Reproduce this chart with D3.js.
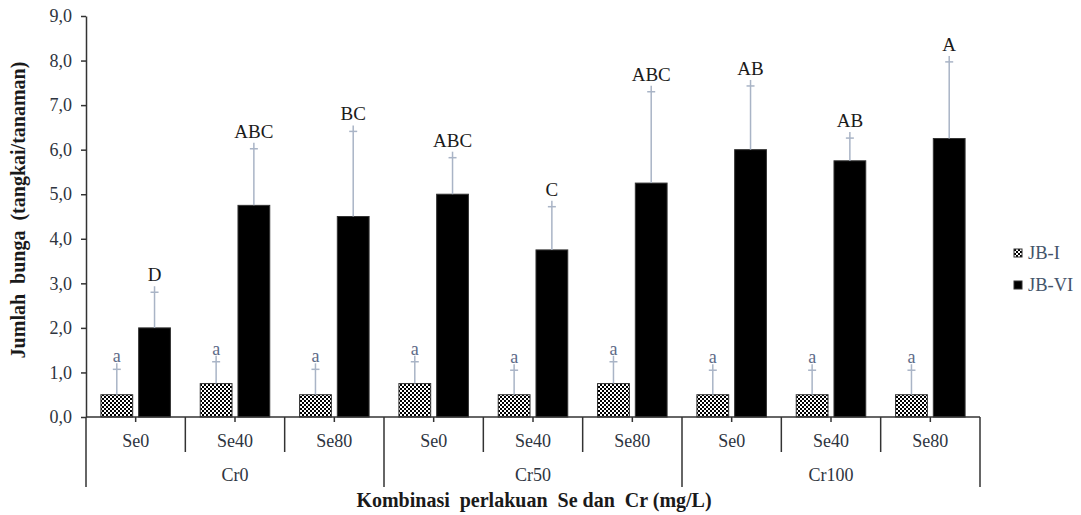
<!DOCTYPE html>
<html>
<head>
<meta charset="utf-8">
<script src="https://cdn.jsdelivr.net/npm/d3@7"></script>
<style>
  body { margin: 0; background: #fff; }
  svg { font-family: "Liberation Serif", "Times New Roman", serif; }
</style>
</head>
<body>
<svg id="chart" width="1081" height="515"></svg>
<script>
// data
var groups = ["Cr0", "Cr50", "Cr100"]
var treatments = ["Se0", "Se40", "Se80"]
var series = ["JB-I", "JB-VI"]
var jb1 = [0.5, 0.75, 0.5, 0.75, 0.5, 0.75, 0.5, 0.5, 0.5]
var jb1Sd = [0.57, 0.49, 0.57, 0.49, 0.55, 0.49, 0.55, 0.55, 0.55]
var jb1Letters = ["a", "a", "a", "a", "a", "a", "a", "a", "a"]
var jb6 = [2.0, 4.75, 4.5, 5.0, 3.75, 5.25, 6.0, 5.75, 6.25]
var jb6Sd = [0.8, 1.27, 1.91, 0.82, 0.97, 2.05, 1.43, 0.51, 1.72]
var jb6Letters = ["D", "ABC", "BC", "ABC", "C", "ABC", "AB", "AB", "A"]
var yTicks = [0, 1, 2, 3, 4, 5, 6, 7, 8, 9]

// one category per Cr x Se combination
var cats = []
groups.forEach(function(g) {
  treatments.forEach(function(t) { cats.push(g + "|" + t) })
})

var svg = d3.select("#chart")

var x = d3.scaleBand().domain(cats).range([86, 980])
var xIn = d3.scaleBand().domain(series).range([0, x.bandwidth()])
  .paddingInner(0.158).paddingOuter(0.395)
var y = d3.scaleLinear().domain([0, 9]).range([417, 16])

var textCol = "#2e3440"

// checker pattern for JB-I
var defs = svg.append("defs")
var pat = defs.append("pattern").attr("id", "checker")
  .attr("width", 4).attr("height", 4).attr("patternUnits", "userSpaceOnUse")
pat.append("rect").attr("width", 4).attr("height", 4).attr("fill", "#fff")
pat.append("rect").attr("width", 2).attr("height", 2).attr("fill", "#000")
pat.append("rect").attr("x", 2).attr("y", 2).attr("width", 2).attr("height", 2).attr("fill", "#000")

// build rows for the bars
var rows = []
cats.forEach(function(c, i) {
  rows.push({cat: c, s: "JB-I", v: jb1[i], sd: jb1Sd[i], lab: jb1Letters[i]})
  rows.push({cat: c, s: "JB-VI", v: jb6[i], sd: jb6Sd[i], lab: jb6Letters[i]})
})
function cx(d) { return x(d.cat) + xIn(d.s) + xIn.bandwidth() / 2 }

// bars
svg.append("g").selectAll("rect")
  .data(rows)
  .enter()
  .append("rect")
  .attr("x", d => x(d.cat) + xIn(d.s))
  .attr("y", d => y(d.v))
  .attr("width", xIn.bandwidth())
  .attr("height", d => y(0) - y(d.v))
  .attr("fill", d => d.s == "JB-I" ? "url(#checker)" : "#000")
  .attr("stroke", "#333")
  .attr("stroke-width", 1)

// error bars (upper only)
var err = svg.append("g").attr("stroke", "#a9b4c6").attr("stroke-width", 1.5)
err.selectAll("line.v")
  .data(rows)
  .enter()
  .append("line")
  .attr("x1", cx).attr("x2", cx)
  .attr("y1", d => y(d.v))
  .attr("y2", d => y(d.v + d.sd) - 6)
err.selectAll("line.cap")
  .data(rows)
  .enter()
  .append("line")
  .attr("x1", d => cx(d) - 4).attr("x2", d => cx(d) + 4)
  .attr("y1", d => y(d.v + d.sd))
  .attr("y2", d => y(d.v + d.sd))

// significance letters
svg.append("g").selectAll("text")
  .data(rows)
  .enter()
  .append("text")
  .attr("x", cx)
  .attr("y", d => y(d.v + d.sd) - (d.s == "JB-I" ? 7 : 11))
  .attr("text-anchor", "middle")
  .attr("font-size", d => d.s == "JB-I" ? 18 : 19)
  .attr("fill", d => d.s == "JB-I" ? "#5d6b88" : "#1a1a1a")
  .text(d => d.lab)

// y axis
var yAxis = svg.append("g")
  .attr("transform", "translate(86,0)")
  .call(d3.axisLeft(y).tickValues(yTicks).tickSize(5).tickSizeOuter(0)
    .tickFormat(d => d3.format(".1f")(d).replace(".", ",")))
yAxis.select(".domain").attr("stroke", "#333").attr("stroke-width", 1.5)
yAxis.selectAll(".tick line").attr("stroke", "#333").attr("stroke-width", 1.5)
yAxis.selectAll(".tick text")
  .attr("x", -14)
  .attr("font-size", 18)
  .attr("font-family", "Liberation Serif")
  .attr("fill", textCol)

// x axis: baseline, centre ticks, separators
var xa = svg.append("g").attr("stroke", "#333").attr("stroke-width", 1.5)
xa.append("line").attr("x1", 86).attr("x2", 980).attr("y1", y(0)).attr("y2", y(0))
xa.selectAll("line.t")
  .data(cats)
  .enter()
  .append("line")
  .attr("x1", d => x(d) + x.bandwidth() / 2).attr("x2", d => x(d) + x.bandwidth() / 2)
  .attr("y1", y(0)).attr("y2", y(0) + 5)
xa.selectAll("line.sep")
  .data(d3.range(cats.length + 1))
  .enter()
  .append("line")
  .attr("x1", i => 86 + i * x.step()).attr("x2", i => 86 + i * x.step())
  .attr("y1", y(0))
  .attr("y2", i => i % 3 == 0 ? 487 : 452)

svg.append("g").selectAll("text")
  .data(cats)
  .enter()
  .append("text")
  .attr("x", d => x(d) + x.bandwidth() / 2)
  .attr("y", 447)
  .attr("text-anchor", "middle")
  .attr("font-size", 18)
  .attr("fill", textCol)
  .text(d => d.split("|")[1])

svg.append("g").selectAll("text")
  .data(groups)
  .enter()
  .append("text")
  .attr("x", (d, i) => 86 + (i * 3 + 1.5) * x.step())
  .attr("y", 481)
  .attr("text-anchor", "middle")
  .attr("font-size", 18)
  .attr("fill", textCol)
  .text(d => d)

// axis titles
svg.append("text")
  .attr("x", 534).attr("y", 507)
  .attr("text-anchor", "middle")
  .attr("font-size", 20).attr("font-weight", "bold")
  .attr("fill", "#1a1a1a")
  .style("white-space", "pre")
  .text("Kombinasi  perlakuan  Se dan  Cr (mg/L)")

svg.append("text")
  .attr("transform", "translate(25,210) rotate(-90)")
  .attr("text-anchor", "middle")
  .attr("font-size", 20).attr("font-weight", "bold")
  .attr("fill", "#1a1a1a")
  .style("white-space", "pre")
  .text("Jumlah  bunga  (tangkai/tanaman)")

// legend
var leg = svg.append("g").selectAll("g")
  .data(series)
  .enter()
  .append("g")
  .attr("transform", (d, i) => "translate(1014," + (249 + i * 32) + ")")
leg.append("rect")
  .attr("width", 8).attr("height", 8)
  .attr("fill", d => d == "JB-I" ? "url(#checker)" : "#000")
  .attr("stroke", "#333")
leg.append("text")
  .attr("x", 14).attr("y", 10)
  .attr("font-size", 18.5)
  .attr("fill", "#44546a")
  .text(d => d)
</script>
</body>
</html>
